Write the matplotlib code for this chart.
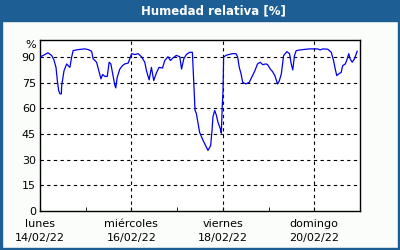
import matplotlib
matplotlib.use("Agg")
import matplotlib.pyplot as plt
from matplotlib.patches import Rectangle
from matplotlib.ticker import FixedLocator
import matplotlib.transforms as mtransforms

# hours since lunes 14/02/22 00:00, relative humidity [%]
hours = [0, 4.2, 6.1, 7.3, 8.4, 9.1, 9.8, 10.5, 11.2, 11.4, 12.6, 14.0, 14.8, 15.7,
         16.6, 17.4, 20.1, 23.6, 25.3, 27.1, 27.9, 29.7, 30.9, 32.0, 32.9, 34.1,
         35.3, 36.3, 37.2, 38.1, 39.3, 39.8, 40.5, 41.9, 43.3, 44.5, 46.3, 48.1,
         49.8, 51.5, 53.3, 55.0, 55.9, 57.3, 58.5, 59.7, 61.2, 62.5, 64.3, 65.5,
         67.2, 68.5, 69.8, 71.6, 73.4, 74.3, 75.5, 76.9, 78.6, 80.0, 80.7, 81.2,
         81.4, 82.1, 83.0, 83.8, 85.6, 87.3, 88.2, 89.6, 90.3, 90.8, 91.7, 92.6,
         93.4, 94.7, 95.2, 95.7, 96.1, 96.4, 97.6, 99.4, 101.1, 102.9, 103.8,
         104.6, 105.5, 106.4, 108.1, 109.9, 111.6, 112.8, 114.2, 115.6, 116.9,
         118.6, 119.5, 120.9, 122.1, 123.3, 124.7, 125.6, 126.7, 127.9, 129.6,
         131.0, 131.9, 132.7, 133.6, 134.5, 138.0, 141.5, 145.8, 147.1, 148.5,
         151.1, 152.9, 154.1, 155.1, 155.8, 157.2, 158.1, 158.9, 160.3, 161.0,
         162.1, 162.8, 163.9, 165.1, 166.5]
humidity = [90, 92.5, 91, 88.4, 84, 76.3, 70.4, 68.5, 68.5, 73.4, 82, 86, 85, 84,
            90, 93.8, 94.4, 94.8, 94.4, 93.4, 89, 87, 82, 77.3, 79.8, 78.7,
            78.7, 87, 86, 80.5, 73.4, 72, 78, 83, 85, 86, 86.5, 92,
            91.5, 92, 90.2, 87, 82, 76.7, 84, 76.3, 81, 84, 83.6, 88,
            90.2, 88, 89.5, 91, 90.2, 83, 89, 91.6, 92.8, 92.8, 76.3, 65,
            58.8, 57, 51, 46, 41.3, 37.4, 35.4, 38.3, 47, 55, 58.8, 56,
            52, 48, 45.5, 61.7, 70.5, 90, 91, 91.6, 92, 92, 90,
            84, 80.5, 75.3, 74.3, 75.3, 79.2, 82, 86, 87, 85.6,
            86, 85.6, 83, 81.5, 79.2, 74.3, 76, 80.2, 90.9, 93.2,
            92, 86, 82.5, 90.9, 93.8, 94.4, 94.8, 94.8, 94.2, 94.8,
            94.6, 92.8, 88, 82.5, 79.2, 80.5, 81, 85, 86, 88,
            92, 89, 87, 89, 93.4]

major_hours = [0, 48, 96, 144]
minor_hours = [24, 72, 120]
day_labels = ["lunes\n14/02/22", "miércoles\n16/02/22",
              "viernes\n18/02/22", "domingo\n20/02/22"]
y_ticks = [0, 15, 30, 45, 60, 75, 90]

fig = plt.figure(figsize=(4, 2.5), dpi=100, facecolor="#fafdfa")

# title bar
fig.patches.append(Rectangle((0, 1 - 20.7 / 250), 1, 20.7 / 250,
                             transform=fig.transFigure, color="#1d5f95", zorder=0))
fig.text(0.533, 1 - 10.5 / 250, "Humedad relativa [%]", color="white",
         fontsize=8.5, fontweight="bold", ha="center", va="center")
# blue frame round the figure
for xy, w, h in [((0, 0), 2 / 400, 1), ((1 - 2 / 400, 0), 2 / 400, 1), ((0, 0), 1, 2 / 250)]:
    fig.patches.append(Rectangle(xy, w, h, transform=fig.transFigure,
                                 color="#1d5f95", zorder=0))

ax = fig.add_axes([40 / 400, 1 - 211 / 250, 320 / 400, 171 / 250])
ax.set_facecolor("white")
ax.plot(hours, humidity, color="#0000ee", lw=0.9, zorder=3)

ax.set_xlim(0, 168)
ax.set_ylim(0, 100)
ax.set_yticks(y_ticks)
ax.set_xticks(major_hours)
ax.set_xticklabels(day_labels)
ax.xaxis.set_minor_locator(FixedLocator(minor_hours))

for v in y_ticks[1:]:
    ax.axhline(v, color="black", lw=0.8, dashes=(3, 3), zorder=1)
for h in major_hours[1:]:
    ax.axvline(h, color="black", lw=0.8, dashes=(3, 3), zorder=1)

ax.tick_params(axis="y", length=0, pad=3, labelsize=8)
ax.tick_params(axis="x", which="both", length=3, direction="in", pad=6,
               labelsize=8)
for lab in ax.get_xticklabels():
    lab.set_linespacing(1.5)
for sp in ax.spines.values():
    sp.set_linewidth(1)

trans = mtransforms.blended_transform_factory(ax.transAxes, ax.transData)
ax.text(-0.012, 97, "%", transform=trans, ha="right", va="center", fontsize=8)

fig.savefig("out.png", dpi=100, facecolor=fig.get_facecolor())
